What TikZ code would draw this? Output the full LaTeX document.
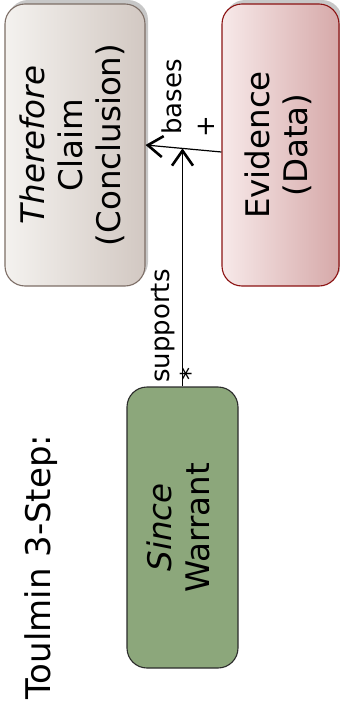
\documentclass[tikz,border=0pt]{standalone}
\usepackage{fontspec}
\setmainfont{DejaVu Sans}
\usepackage{graphicx}
\usetikzlibrary{arrows.meta,shadows,calc}

\definecolor{claimL}{HTML}{F4F2EF}
\definecolor{claimR}{HTML}{D2C8C2}
\definecolor{claimB}{HTML}{7D6E66}
\definecolor{evidL}{HTML}{F7E9E9}
\definecolor{evidR}{HTML}{D6A9A9}
\definecolor{evidB}{HTML}{8B1212}
\definecolor{warrF}{HTML}{8CA77B}
\definecolor{warrB}{HTML}{2B2B2B}

\newcommand{\vlines}[1]{\rotatebox{90}{\begin{tabular}{@{}c@{}}#1\end{tabular}}}

\begin{document}
\begin{tikzpicture}[x=1pt,y=-1pt]
	\tikzstyle{every node}+=[inner sep=0pt]
	\tikzstyle{box}=[draw, line width=1.1pt, rounded corners=20pt, font=\fontsize{32.5}{38}\selectfont]
	\tikzstyle{shadowed}=[drop shadow={shadow xshift=3pt, shadow yshift=4pt, fill=black!22, opacity=1}]
	\tikzstyle{link}=[line width=1.2pt, -{Straight Barb[length=15pt,width=21pt,line width=2.6pt]}]
	\tikzstyle{lbl}=[rotate=90, font=\fontsize{26}{31}\selectfont]
	\useasboundingbox (0,0) rectangle (340,707);
	\node[box, shadowed, draw=claimB, left color=claimL, right color=claimR, minimum width=140pt, minimum height=282pt] (cl) at (75,145) {\vlines{\textit{Therefore}\\Claim\\(Conclusion)}};
	\node[box, shadowed, draw=evidB, left color=evidL, right color=evidR, minimum width=117pt, minimum height=282pt] (ev) at (280.5,145) {\vlines{Evidence\\(Data)}};
	\node[box, draw=warrB, fill=warrF, minimum width=111pt, minimum height=281pt] (wa) at (182.5,527.5) {\vlines{\textit{Since}\\Warrant}};
	\node[rotate=90, font=\fontsize{34}{40}\selectfont] (title) at (41,567) {Toulmin 3-Step:};
	\draw[link] ([yshift=-7pt]ev.west) -- (cl.east) coordinate[pos=0.52] (jn);
	\draw[link] (wa.north) -- (wa.north |- jn);
	\node[lbl] (bases) at (172,97) {bases};
	\node[lbl] (plus) at (206,127) {+};
	\node[lbl] (supports) at (163,326) {supports};
	\node[lbl] (star) at (190,374) {*};
\end{tikzpicture}
\end{document}
